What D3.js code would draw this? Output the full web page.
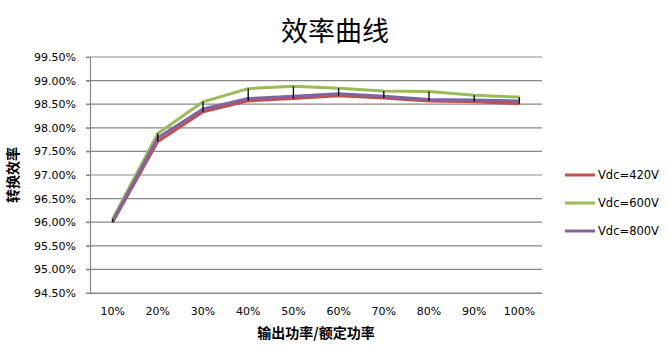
<!DOCTYPE html>
<html><head><meta charset="utf-8">
<script src="https://cdn.jsdelivr.net/npm/d3@7"></script>
<style>body{margin:0;background:#fff}svg{display:block}</style>
</head><body>
<script>
const categories = ["10%","20%","30%","40%","50%","60%","70%","80%","90%","100%"];
const v420 = [96.00,97.71,98.34,98.57,98.62,98.68,98.63,98.57,98.55,98.51];
const v600 = [96.07,97.88,98.55,98.83,98.88,98.84,98.78,98.77,98.69,98.65];
const v800 = [96.02,97.79,98.40,98.62,98.67,98.72,98.67,98.60,98.59,98.57];
const yTicks = [94.5,95,95.5,96,96.5,97,97.5,98,98.5,99,99.5];
const seriesNames = ["Vdc=420V","Vdc=600V","Vdc=800V"];
const title = "效率曲线";
const xTitle = "输出功率/额定功率";
const yTitle = "转换效率";

const W = 669, H = 352;
const m = {left: 90, right: 127, top: 57, bottom: 59};
const svg = d3.select("body").append("svg").attr("width", W).attr("height", H);

const x = d3.scaleBand().domain(categories).range([m.left, W - m.right]);
const y = d3.scaleLinear().domain([94.5, 99.5]).range([H - m.bottom, m.top]);
const cx = d => x(d) + x.bandwidth() / 2;
const font = "'DejaVu Sans', Verdana, sans-serif";

// grid
svg.append("g").selectAll("line").data(yTicks).join("line")
  .attr("x1", m.left - 4).attr("x2", W - m.right)
  .attr("y1", d => y(d)).attr("y2", d => y(d))
  .attr("stroke", "#878787").attr("stroke-width", 1.2);

// y axis
const yAxis = svg.append("g").attr("transform", `translate(${m.left},0)`)
  .call(d3.axisLeft(y).tickValues(yTicks).tickSize(4).tickFormat(d => d.toFixed(2) + "%"));
yAxis.select(".domain").attr("stroke", "#878787").attr("stroke-width", 1.2);
yAxis.selectAll(".tick line").attr("stroke", "#878787");
yAxis.selectAll("text").attr("font-family", font).attr("font-size", 11).attr("fill", "#000").attr("x", -14);

// x axis
const xAxis = svg.append("g").attr("transform", `translate(0,${H - m.bottom})`)
  .call(d3.axisBottom(x).tickSize(0).tickPadding(14));
xAxis.select(".domain").attr("stroke", "#878787").attr("stroke-width", 1.2);
xAxis.selectAll("text").attr("font-family", font).attr("font-size", 11).attr("fill", "#000");

// lines
const series = [
  {name: seriesNames[0], vals: v420, color: "#C0504D"},
  {name: seriesNames[1], vals: v600, color: "#9BBB59"},
  {name: seriesNames[2], vals: v800, color: "#8064A2"}
];
const line = d3.line().x((d, i) => cx(categories[i])).y(d => y(d));
series.forEach(s => {
  svg.append("path").datum(s.vals).attr("d", line)
    .attr("fill", "none").attr("stroke", s.color).attr("stroke-width", 3)
    .attr("stroke-linejoin", "round");
});

// range bars
svg.append("g").selectAll("line").data(categories).join("line")
  .attr("x1", d => cx(d)).attr("x2", d => cx(d))
  .attr("y1", (d, i) => y(Math.max(v420[i], v600[i], v800[i])))
  .attr("y2", (d, i) => y(Math.min(v420[i], v600[i], v800[i])))
  .attr("stroke", "#000").attr("stroke-width", 1.3);

// legend
const lg = svg.append("g");
series.forEach((s, i) => {
  const ly = 175 + i * 28;
  lg.append("line").attr("x1", 565).attr("x2", 595).attr("y1", ly).attr("y2", ly)
    .attr("stroke", s.color).attr("stroke-width", 3);
  lg.append("text").attr("x", 598).attr("y", ly).attr("dy", "0.35em")
    .attr("font-family", font).attr("font-size", 11.5).text(s.name);
});

// titles
svg.append("text").attr("x", 335).attr("y", 41).attr("text-anchor", "middle")
  .attr("font-family", "'Noto Sans CJK SC', sans-serif").attr("font-size", 27).text(title);
svg.append("text").attr("x", (m.left + W - m.right) / 2).attr("y", 338).attr("text-anchor", "middle")
  .attr("font-family", "'Noto Sans CJK SC', sans-serif").attr("font-weight", "bold").attr("font-size", 14).text(xTitle);
svg.append("text").attr("transform", `translate(18,${(m.top + H - m.bottom) / 2}) rotate(-90)`)
  .attr("text-anchor", "middle")
  .attr("font-family", "'Noto Sans CJK SC', sans-serif").attr("font-weight", "bold").attr("font-size", 14).text(yTitle);
</script>
</body></html>
